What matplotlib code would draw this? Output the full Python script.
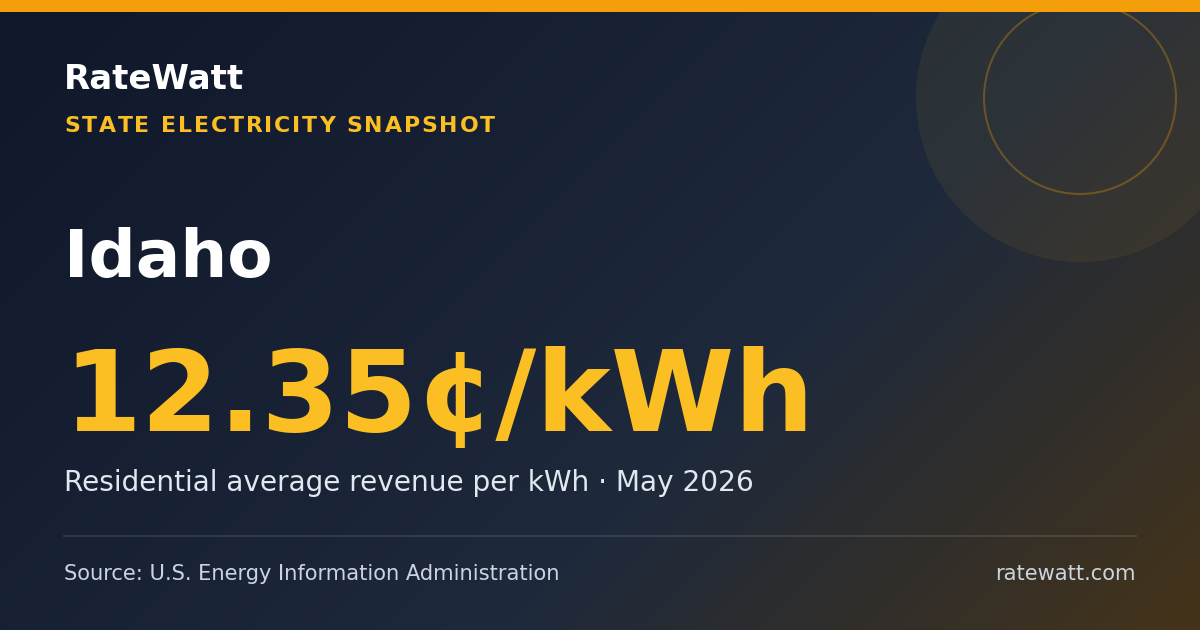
import numpy as np
import matplotlib
matplotlib.use("Agg")
import matplotlib.pyplot as plt
from matplotlib.colors import to_rgb
from matplotlib.patches import Circle, Rectangle

brand = "RateWatt"
kicker = "STATE ELECTRICITY SNAPSHOT"
state = "Idaho"
price_cents = 12.35
unit = "¢/kWh"
metric = "Residential average revenue per kWh"
period = "May 2026"
source = "Source: U.S. Energy Information Administration"
site = "ratewatt.com"

W, H = 1200, 630
PX = 0.72  # px -> pt at dpi 100

fig = plt.figure(figsize=(W / 100, H / 100), dpi=100)
ax = fig.add_axes([0, 0, 1, 1])
ax.set_xlim(0, W)
ax.set_ylim(H, 0)
ax.axis("off")

# background: 135deg gradient, slate into warm brown at the lower right
yy, xx = np.mgrid[0:H, 0:W]
t = ((xx + yy) / (W + H))[..., None]
stops = [0.0, 0.62, 1.0]
cols = [np.array(to_rgb(c)) for c in ["#0f172a", "#1e293b", "#45341a"]]
bg = np.where(t < stops[1],
              cols[0] + (cols[1] - cols[0]) * (t / stops[1]),
              cols[1] + (cols[2] - cols[1]) * ((t - stops[1]) / (1 - stops[1])))
ax.imshow(bg, extent=(0, W, H, 0), zorder=0, aspect="auto")

ax.add_patch(Rectangle((0, 0), W, 12, color="#f59e0b", zorder=3, lw=0))
ax.add_patch(Circle((1080, 98), 164, color="#fbbf24", alpha=0.065, lw=0, zorder=1))
ax.add_patch(Circle((1080, 98), 96, fill=False, ec="#f59e0b", alpha=0.3, lw=1.5, zorder=2))

ax.text(64, 89, brand, color="white", fontsize=34 * PX, fontweight="bold", va="baseline")

# letter-spaced kicker
fig.canvas.draw()
r = fig.canvas.get_renderer()
x = 64
spacing = 1.9
for ch in kicker:
    ax.text(x, 132, ch, color="#fbbf24", fontsize=22 * PX, fontweight="bold", va="baseline")
    probe = ax.text(0, 0, ch + "|", fontsize=22 * PX, fontweight="bold")
    bar = ax.text(0, 0, "|", fontsize=22 * PX, fontweight="bold")
    w = probe.get_window_extent(r).width - bar.get_window_extent(r).width
    probe.remove()
    bar.remove()
    x += w + spacing

ax.text(64, 277, state, color="white", fontsize=66 * PX, fontweight="bold", va="baseline")
ax.text(63, 431, f"{price_cents:.2f}{unit}", color="#fbbf24", fontsize=112 * PX,
        fontweight="bold", va="baseline")
ax.text(64, 491, f"{metric} · {period}", color="#e2e8f0", fontsize=28 * PX, va="baseline")

ax.plot([64, 1136], [536, 536], color="white", alpha=0.1, lw=1.5)
ax.text(64, 580, source, color="#cbd5e1", fontsize=21 * PX, va="baseline")
ax.text(1136, 580, site, color="#cbd5e1", fontsize=21 * PX, va="baseline", ha="right")

fig.savefig("out.png", dpi=100)
